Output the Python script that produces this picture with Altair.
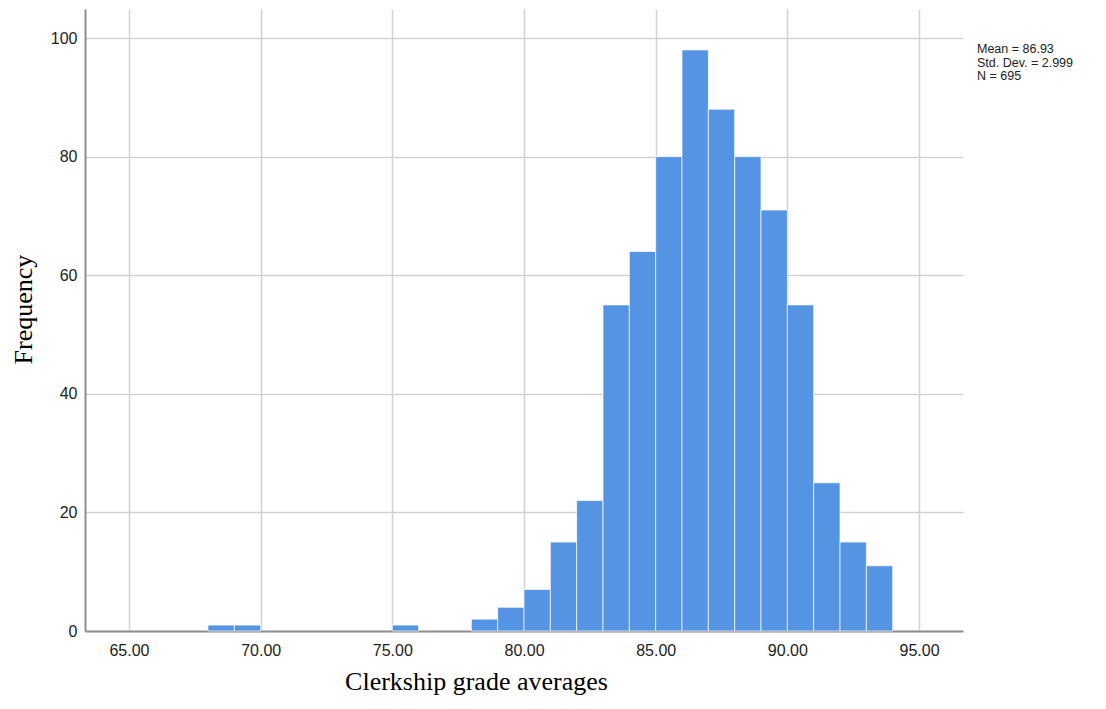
import altair as alt
import pandas as pd

# Histogram bins (lower edge, width 1) and frequencies
bin_start = [68, 69, 75, 78, 79, 80, 81, 82, 83, 84, 85, 86, 87, 88, 89, 90, 91, 92, 93]
freq = [1, 1, 1, 2, 4, 7, 15, 22, 55, 64, 80, 98, 88, 80, 71, 55, 25, 15, 11]
x_ticks = [65, 70, 75, 80, 85, 90, 95]
y_ticks = [0, 20, 40, 60, 80, 100]
stats_lines = ["Mean = 86.93", "Std. Dev. = 2.999", "N = 695"]

df = pd.DataFrame({"start": bin_start, "end": [s + 1 for s in bin_start], "freq": freq})

SANS = "Liberation Sans"
SERIF = "Liberation Serif"

x_scale = alt.Scale(domain=[63.33, 96.67], nice=False, zero=False)
y_scale = alt.Scale(domain=[0, 104.9], nice=False)

bars = alt.Chart(df).mark_rect(
    color="#5594e3", stroke="#ffffff", strokeOpacity=0.7, strokeWidth=1
).encode(
    x=alt.X("start:Q", scale=x_scale,
            axis=alt.Axis(values=x_ticks, format=".2f", title="Clerkship grade averages",
                          grid=True, ticks=False, labelPadding=11, titlePadding=10,
                          titleX=391, titleAnchor="start", titleAlign="center")),
    x2="end:Q",
    y=alt.Y("freq:Q", scale=y_scale,
            axis=alt.Axis(values=y_ticks, format="d", title="Frequency",
                          grid=True, ticks=False, labelPadding=8, titlePadding=14,
                          titleY=300, titleAlign="center")),
    y2=alt.datum(0),
)

stats_df = pd.DataFrame({"t": stats_lines, "i": list(range(len(stats_lines)))})
stats = alt.Chart(stats_df).mark_text(
    align="left", baseline="middle", font=SANS, fontSize=12.5, color="#222222"
).encode(
    text="t:N",
    x=alt.value(892),
    y=alt.Y("i:Q", scale=alt.Scale(domain=[0, 2], range=[40, 67], nice=False, zero=False), axis=None),
)

chart = alt.layer(bars, stats).resolve_scale(y="independent").properties(
    width=878, height=622,
    autosize=alt.AutoSizeParams(type="none"),
    padding={"left": 77, "top": 1, "right": 135, "bottom": 70},
).configure_view(stroke=None).configure_axis(
    labelFont=SANS, labelFontSize=16, labelColor="#222222",
    titleFont=SERIF, titleFontSize=26, titleFontWeight="normal", titleColor="#000000",
    domainColor="#8f8f8f", domainWidth=2,
    gridColor="#d2d2d2", gridWidth=1.5,
)

chart.save("out.html", embed_options={"renderer": "svg", "actions": False})
